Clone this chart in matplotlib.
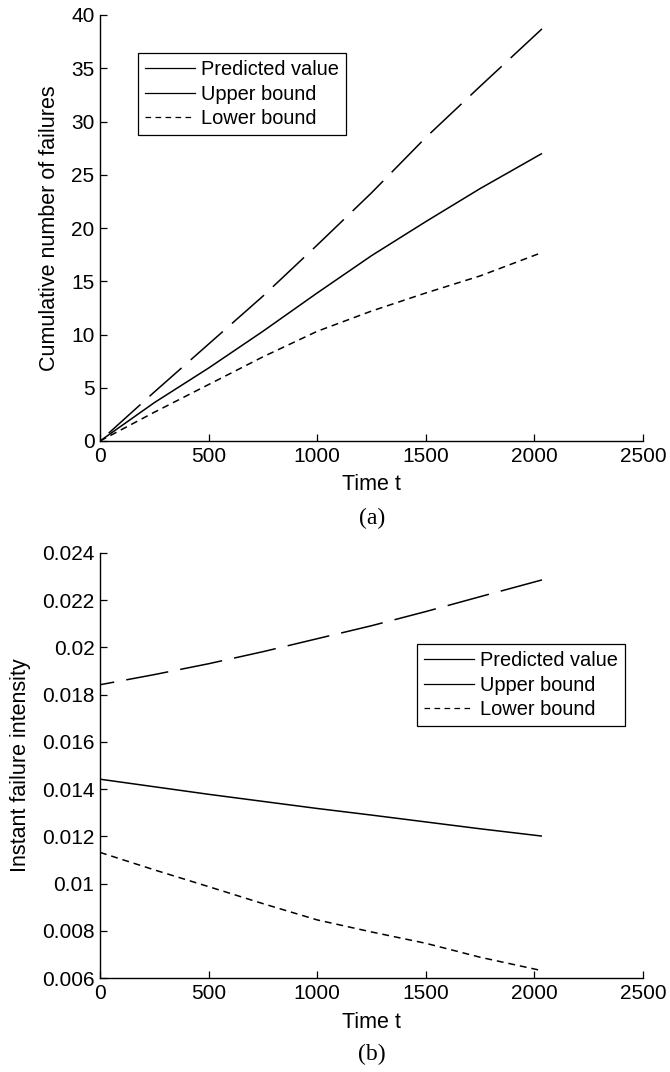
import matplotlib
matplotlib.use('Agg')
import matplotlib.pyplot as plt
from matplotlib.lines import Line2D
from matplotlib.ticker import FuncFormatter

plt.rcParams['font.family'] = ['Liberation Sans', 'DejaVu Sans']

# (a) 累计失效数
t_a = [0, 250, 500, 750, 1000, 1250, 1500, 1750, 2035]
pred_a = [0, 3.6, 6.85, 10.3, 13.9, 17.4, 20.6, 23.7, 27.0]
upper_a = [0, 4.6, 9.1, 13.6, 18.4, 23.3, 28.5, 33.3, 38.7]
lower_a = [0, 2.7, 5.3, 7.9, 10.3, 12.2, 13.9, 15.5, 17.7]

# (b) 瞬时失效强度
t_b = [0, 250, 500, 750, 1000, 1250, 1500, 1750, 2035]
pred_b = [0.01442, 0.0141, 0.01378, 0.01348, 0.01318, 0.0129, 0.01261, 0.01232, 0.01201]
upper_b = [0.01842, 0.01885, 0.01931, 0.01982, 0.02037, 0.02092, 0.02152, 0.02215, 0.02286]
lower_b = [0.01132, 0.01058, 0.00987, 0.00915, 0.00846, 0.00795, 0.00747, 0.00688, 0.00631]

legend_labels = ['Predicted value', 'Upper bound', 'Lower bound']
x_ticks = [0, 500, 1000, 1500, 2000, 2500]

W, H = 670, 1072
fig = plt.figure(figsize=(W / 100, H / 100), dpi=100)


def setup_axes(ax):
    for side in ['top', 'right']:
        ax.spines[side].set_visible(False)
    for side in ['left', 'bottom']:
        ax.spines[side].set_linewidth(1.0)
    ax.tick_params(direction='in', length=5, width=0.9, labelsize=15, pad=4)
    ax.set_xlim(0, 2500)
    ax.set_xticks(x_ticks)


def draw_panel(ax, t, pred, upper, lower, anchor):
    ax.plot(t, pred, color='k', lw=1.1, solid_capstyle='butt')
    # 反向画，让长虚线在末端是实段
    ax.plot(t[::-1], upper[::-1], color='k', lw=1.1, dashes=(28, 8))
    ax.plot(t, lower, color='k', lw=1.1, dashes=(4.5, 3.2))
    # 图例样式照原图：前两项都是实线
    handles = [Line2D([], [], color='k', lw=0.9),
               Line2D([], [], color='k', lw=0.9),
               Line2D([], [], color='k', lw=0.9, dashes=(4.5, 3.5))]
    leg = ax.legend(handles, legend_labels, loc='upper left', bbox_to_anchor=anchor,
                    bbox_transform=fig.transFigure, borderaxespad=0, fancybox=False,
                    framealpha=1, edgecolor='k', fontsize=14.4, handlelength=2.5,
                    handletextpad=0.3, labelspacing=0.28, borderpad=0.35)
    leg.get_frame().set_linewidth(0.9)


# 上图 (a)
ax1 = fig.add_axes([100 / W, 1 - 441 / H, 543 / W, 426 / H])
setup_axes(ax1)
draw_panel(ax1, t_a, pred_a, upper_a, lower_a, (138 / W, 1 - 53 / H))
ax1.set_ylim(0, 40)
ax1.set_yticks(range(0, 41, 5))
ax1.set_xlabel('Time t', fontsize=15.5, va='center')
ax1.xaxis.set_label_coords(0.5, -43 / 426)
ax1.set_ylabel('Cumulative number of failures', fontsize=15.5, va='center')
ax1.yaxis.set_label_coords(-50 / 543, 0.5)

# 下图 (b)
ax2 = fig.add_axes([100 / W, 1 - 978 / H, 543 / W, 425 / H])
setup_axes(ax2)
draw_panel(ax2, t_b, pred_b, upper_b, lower_b, (417 / W, 1 - 644 / H))
ax2.set_ylim(0.006, 0.024)
ax2.set_yticks([0.006, 0.008, 0.01, 0.012, 0.014, 0.016, 0.018, 0.02, 0.022, 0.024])
ax2.yaxis.set_major_formatter(FuncFormatter(lambda v, p: '%g' % round(v, 3)))
ax2.set_xlabel('Time t', fontsize=15.5, va='center')
ax2.xaxis.set_label_coords(0.5, -45 / 425)
ax2.set_ylabel('Instant failure intensity', fontsize=15.5, va='center')
ax2.yaxis.set_label_coords(-79 / 543, 0.5)

fig.text(372 / W, 1 - 518 / H, '(a)', ha='center', va='center', fontsize=17,
         family=['Liberation Serif', 'DejaVu Serif'])
fig.text(372 / W, 1 - 1054 / H, '(b)', ha='center', va='center', fontsize=17,
         family=['Liberation Serif', 'DejaVu Serif'])

fig.savefig('out.png', dpi=100)
